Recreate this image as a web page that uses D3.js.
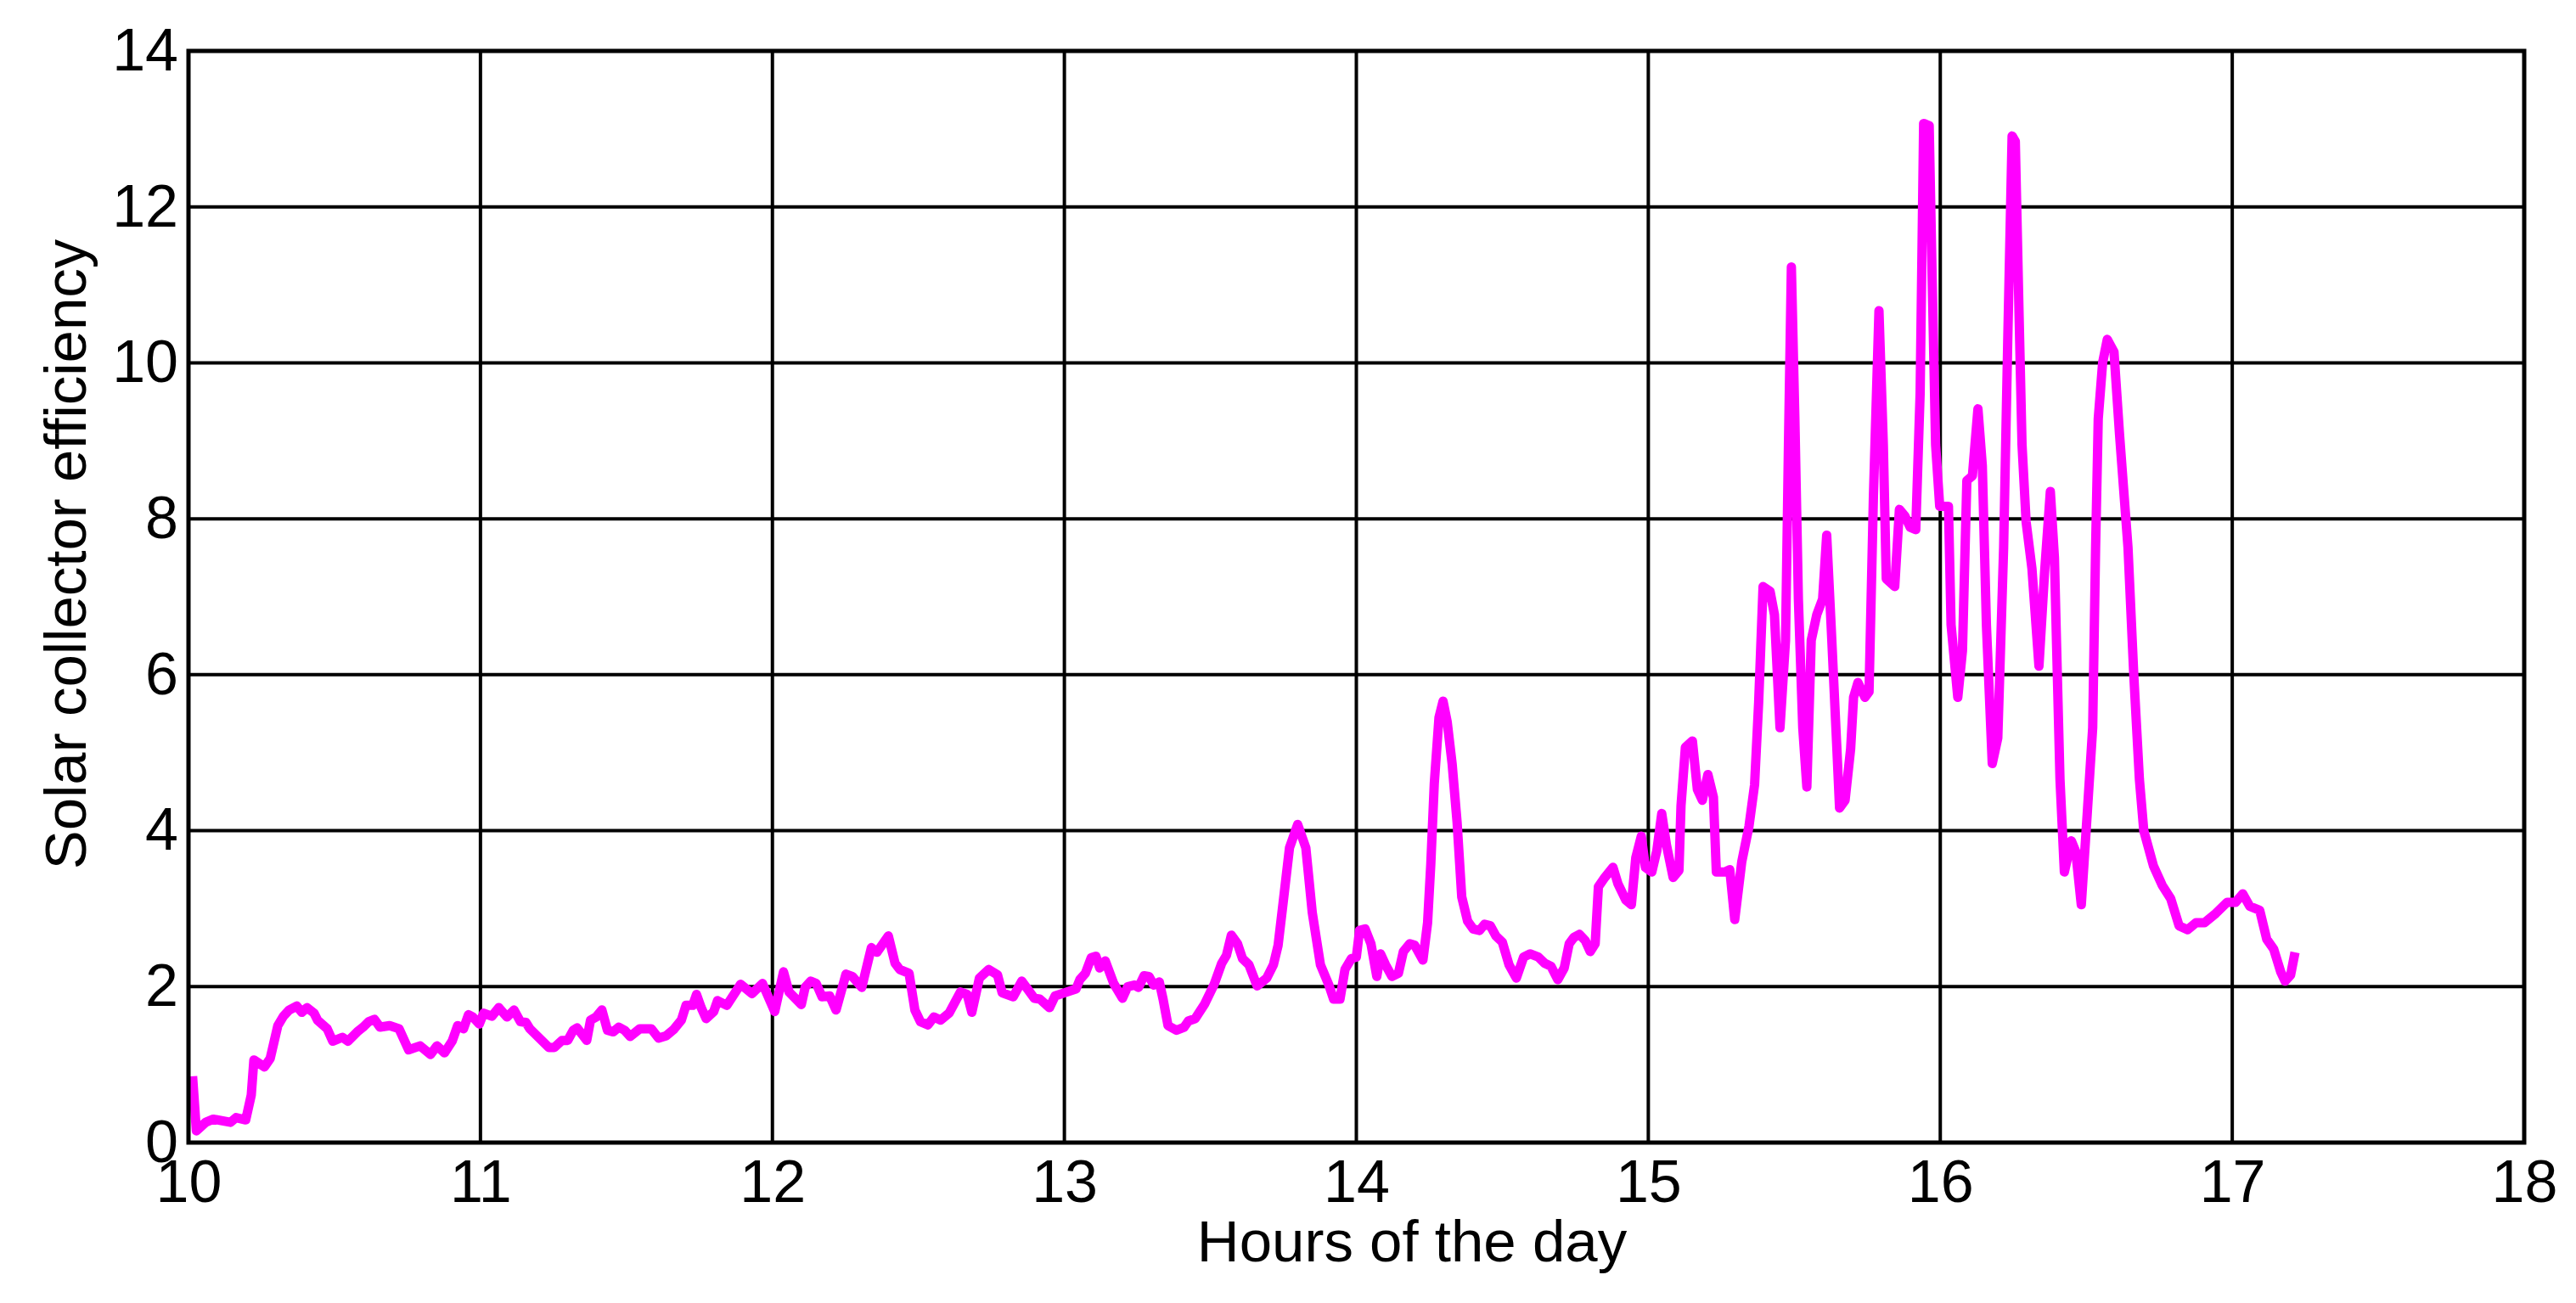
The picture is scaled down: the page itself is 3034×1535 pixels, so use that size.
<!DOCTYPE html>
<html>
<head>
<meta charset="utf-8">
<script src="https://cdn.jsdelivr.net/npm/d3@7"></script>
<style>
  body { margin: 0; background: #fff; }
  svg text { font-family: "Liberation Sans", Arial, Helvetica, sans-serif; fill: #000; }
</style>
</head>
<body>
<div id="chart"></div>
<script>
// hours of the day (x)
var hours = [
  10.014, 10.027, 10.059, 10.085, 10.144, 10.163, 10.196, 10.215, 10.224, 10.26,
  10.28, 10.306, 10.325, 10.345, 10.371, 10.388, 10.406, 10.43, 10.442, 10.475,
  10.494, 10.527, 10.546, 10.578, 10.598, 10.617, 10.637, 10.656, 10.689, 10.721,
  10.754, 10.793, 10.829, 10.851, 10.877, 10.903, 10.922, 10.942, 10.959, 10.974,
  10.996, 11.011, 11.039, 11.063, 11.091, 11.115, 11.137, 11.156, 11.169, 11.234,
  11.253, 11.279, 11.299, 11.318, 11.331, 11.364, 11.377, 11.396, 11.416, 11.435,
  11.455, 11.474, 11.494, 11.513, 11.546, 11.585, 11.61, 11.636, 11.662, 11.688,
  11.704, 11.727, 11.74, 11.756, 11.773, 11.799, 11.812, 11.844, 11.891, 11.93,
  11.966, 12.008, 12.038, 12.057, 12.099, 12.112, 12.131, 12.15, 12.17, 12.196,
  12.218, 12.252, 12.274, 12.306, 12.339, 12.358, 12.397, 12.42, 12.436, 12.468,
  12.488, 12.507, 12.533, 12.553, 12.576, 12.605, 12.644, 12.667, 12.683, 12.709,
  12.741, 12.771, 12.787, 12.825, 12.854, 12.897, 12.916, 12.949, 12.968, 13.0,
  13.04, 13.053, 13.072, 13.092, 13.108, 13.121, 13.14, 13.169, 13.199, 13.217,
  13.241, 13.254, 13.273, 13.29, 13.306, 13.325, 13.338, 13.355, 13.384, 13.41,
  13.425, 13.448, 13.481, 13.513, 13.539, 13.555, 13.572, 13.593, 13.61, 13.632,
  13.66, 13.693, 13.716, 13.732, 13.749, 13.771, 13.799, 13.827, 13.849, 13.877,
  13.905, 13.922, 13.944, 13.961, 13.983, 14.0, 14.011, 14.03, 14.05, 14.07,
  14.083, 14.1, 14.122, 14.144, 14.161, 14.183, 14.2, 14.228, 14.244, 14.255,
  14.267, 14.283, 14.297, 14.311, 14.328, 14.345, 14.361, 14.381, 14.4, 14.422,
  14.439, 14.459, 14.478, 14.5, 14.523, 14.548, 14.573, 14.595, 14.623, 14.645,
  14.667, 14.69, 14.712, 14.729, 14.745, 14.764, 14.784, 14.801, 14.818, 14.829,
  14.851, 14.879, 14.896, 14.923, 14.942, 14.957, 14.976, 14.99, 15.012, 15.029,
  15.046, 15.062, 15.085, 15.105, 15.112, 15.127, 15.151, 15.168, 15.185, 15.204,
  15.223, 15.233, 15.262, 15.279, 15.296, 15.32, 15.345, 15.364, 15.378, 15.393,
  15.417, 15.432, 15.451, 15.47, 15.48, 15.49, 15.502, 15.514, 15.529, 15.543,
  15.558, 15.577, 15.597, 15.611, 15.626, 15.645, 15.655, 15.674, 15.693, 15.703,
  15.718, 15.742, 15.756, 15.771, 15.79, 15.805, 15.815, 15.844, 15.86, 15.878,
  15.897, 15.916, 15.931, 15.943, 15.962, 15.972, 15.984, 15.998, 16.028, 16.037,
  16.06, 16.076, 16.091, 16.11, 16.129, 16.144, 16.158, 16.178, 16.197, 16.217,
  16.231, 16.246, 16.257, 16.27, 16.28, 16.294, 16.314, 16.338, 16.357, 16.377,
  16.391, 16.401, 16.41, 16.425, 16.449, 16.464, 16.483, 16.503, 16.522, 16.532,
  16.541, 16.556, 16.572, 16.595, 16.614, 16.643, 16.663, 16.682, 16.697, 16.73,
  16.76, 16.789, 16.818, 16.847, 16.876, 16.905, 16.944, 16.982, 17.011, 17.036,
  17.06, 17.094, 17.118, 17.142, 17.166, 17.181, 17.2, 17.215
];

// solar collector efficiency (y)
var efficiency = [
  0.85, 0.15, 0.26, 0.30, 0.26, 0.32, 0.29, 0.61, 1.06, 0.97,
  1.08, 1.50, 1.62, 1.70, 1.75, 1.67, 1.73, 1.66, 1.57, 1.46,
  1.30, 1.35, 1.30, 1.42, 1.48, 1.55, 1.58, 1.48, 1.50, 1.46,
  1.19, 1.24, 1.13, 1.24, 1.15, 1.30, 1.50, 1.46, 1.64, 1.61,
  1.52, 1.66, 1.62, 1.73, 1.61, 1.70, 1.55, 1.54, 1.46, 1.22,
  1.22, 1.31, 1.31, 1.44, 1.47, 1.31, 1.57, 1.61, 1.70, 1.44,
  1.42, 1.48, 1.44, 1.36, 1.46, 1.46, 1.34, 1.37, 1.45, 1.57,
  1.76, 1.76, 1.90, 1.73, 1.59, 1.68, 1.82, 1.76, 2.03, 1.91,
  2.04, 1.68, 2.19, 1.93, 1.77, 1.99, 2.07, 2.04, 1.87, 1.88,
  1.70, 2.16, 2.13, 1.99, 2.50, 2.44, 2.65, 2.30, 2.22, 2.17,
  1.70, 1.55, 1.51, 1.61, 1.57, 1.66, 1.93, 1.90, 1.67, 2.11,
  2.22, 2.15, 1.92, 1.87, 2.07, 1.85, 1.84, 1.73, 1.88, 1.92,
  1.97, 2.09, 2.17, 2.37, 2.39, 2.24, 2.33, 2.04, 1.85, 2.00,
  2.02, 1.99, 2.14, 2.13, 2.02, 2.06, 1.84, 1.50, 1.44, 1.48,
  1.56, 1.59, 1.78, 2.03, 2.30, 2.40, 2.66, 2.55, 2.36, 2.28,
  2.01, 2.11, 2.28, 2.53, 3.07, 3.78, 4.08, 3.78, 2.95, 2.28,
  2.03, 1.84, 1.84, 2.22, 2.36, 2.38, 2.72, 2.74, 2.55, 2.13,
  2.42, 2.28, 2.13, 2.17, 2.45, 2.55, 2.53, 2.34, 2.82, 3.57,
  4.61, 5.45, 5.66, 5.40, 4.86, 4.11, 3.15, 2.84, 2.74, 2.72,
  2.80, 2.78, 2.65, 2.57, 2.28, 2.11, 2.38, 2.42, 2.38, 2.30,
  2.26, 2.09, 2.24, 2.55, 2.63, 2.67, 2.59, 2.45, 2.55, 3.28,
  3.40, 3.53, 3.32, 3.11, 3.05, 3.65, 3.93, 3.53, 3.47, 3.74,
  4.22, 3.82, 3.40, 3.49, 4.32, 5.07, 5.15, 4.53, 4.39, 4.72,
  4.43, 3.47, 3.47, 3.50, 2.86, 3.60, 4.06, 4.59, 5.65, 7.13,
  7.07, 6.77, 5.32, 6.44, 8.95, 11.23, 9.28, 6.97, 5.32, 4.56,
  6.44, 6.77, 6.97, 7.79, 6.64, 5.12, 4.29, 4.39, 5.05, 5.71,
  5.90, 5.71, 5.78, 8.29, 10.67, 8.95, 7.23, 7.13, 8.12, 8.04,
  7.89, 7.86, 9.61, 13.07, 13.04, 11.13, 8.95, 8.16, 8.16, 6.64,
  5.71, 6.31, 8.49, 8.55, 9.41, 8.68, 6.64, 4.86, 5.19, 7.63,
  10.27, 12.91, 12.84, 10.60, 8.95, 7.96, 7.36, 6.11, 7.30, 8.35,
  7.50, 5.98, 4.66, 3.47, 3.87, 3.73, 3.05, 4.20, 5.32, 7.63,
  9.28, 10.00, 10.30, 10.14, 9.08, 7.63, 5.98, 4.66, 4.00, 3.55,
  3.30, 3.13, 2.78, 2.73, 2.82, 2.82, 2.94, 3.08, 3.08, 3.19,
  3.03, 2.98, 2.61, 2.48, 2.19, 2.07, 2.15, 2.44
];

var xTicks = [10, 11, 12, 13, 14, 15, 16, 17, 18];
var yTicks = [0, 2, 4, 6, 8, 10, 12, 14];

var xLabel = "Hours of the day";
var yLabel = "Solar collector efficiency";

// Set the dimensions of the canvas / graph
var margin = {top: 60, right: 61, bottom: 189, left: 222},
    fullWidth = 3034,
    fullHeight = 1535,
    width = fullWidth - margin.left - margin.right,
    height = fullHeight - margin.top - margin.bottom;

// Set the ranges
var x = d3.scaleLinear().domain([10, 18]).range([0, width]);
var y = d3.scaleLinear().domain([0, 14]).range([height, 0]);

var data = hours.map(function(h, i) { return {hour: h, value: efficiency[i]}; });

var svg = d3.select("#chart")
    .append("svg")
      .attr("width", fullWidth)
      .attr("height", fullHeight)
    .append("g")
      .attr("transform", "translate(" + margin.left + "," + margin.top + ")");

// grid lines
svg.append("g")
    .selectAll("line.vgrid")
    .data(xTicks)
    .enter().append("line")
      .attr("class", "vgrid")
      .attr("x1", function(d) { return x(d); })
      .attr("x2", function(d) { return x(d); })
      .attr("y1", 0)
      .attr("y2", height)
      .style("stroke", "#000")
      .style("stroke-width", 4);

svg.append("g")
    .selectAll("line.hgrid")
    .data(yTicks)
    .enter().append("line")
      .attr("class", "hgrid")
      .attr("x1", 0)
      .attr("x2", width)
      .attr("y1", function(d) { return y(d); })
      .attr("y2", function(d) { return y(d); })
      .style("stroke", "#000")
      .style("stroke-width", 4);

// the efficiency line
var line_value = d3.line()
    .x(function(d) { return x(d.hour); })
    .y(function(d) { return y(d.value); });

svg.append("path")
    .attr("d", line_value(data))
    .style("fill", "none")
    .style("stroke", "#ff00ff")
    .style("stroke-width", 11)
    .style("stroke-linejoin", "round")
    .style("stroke-linecap", "butt");

// box around the plot
svg.append("rect")
    .attr("x", 0)
    .attr("y", 0)
    .attr("width", width)
    .attr("height", height)
    .style("fill", "none")
    .style("stroke", "#000")
    .style("stroke-width", 5);

// X axis labels
var xAxis = d3.axisBottom(x).tickValues(xTicks).tickSize(0).tickPadding(20)
    .tickFormat(d3.format("d"));
var gx = svg.append("g")
    .attr("transform", "translate(0," + height + ")")
    .call(xAxis);
gx.select(".domain").remove();
gx.selectAll("text").style("font-size", "70px").style("font-family", null);

// Y axis labels
var yAxis = d3.axisLeft(y).tickValues(yTicks).tickSize(0).tickPadding(12)
    .tickFormat(d3.format("d"));
var gy = svg.append("g").call(yAxis);
gy.select(".domain").remove();
gy.selectAll("text").style("font-size", "70px").style("font-family", null);

// text label x axis
svg.append("text")
    .attr("x", 1663 - margin.left)
    .attr("y", height + 140)
    .style("text-anchor", "middle")
    .style("font-size", "69px")
    .text(xLabel);

// text label y axis
svg.append("text")
    .attr("transform", "translate(" + (101 - margin.left) + "," + (653 - margin.top) + ") rotate(-90)")
    .style("text-anchor", "middle")
    .style("font-size", "69px")
    .text(yLabel);
</script>
</body>
</html>
